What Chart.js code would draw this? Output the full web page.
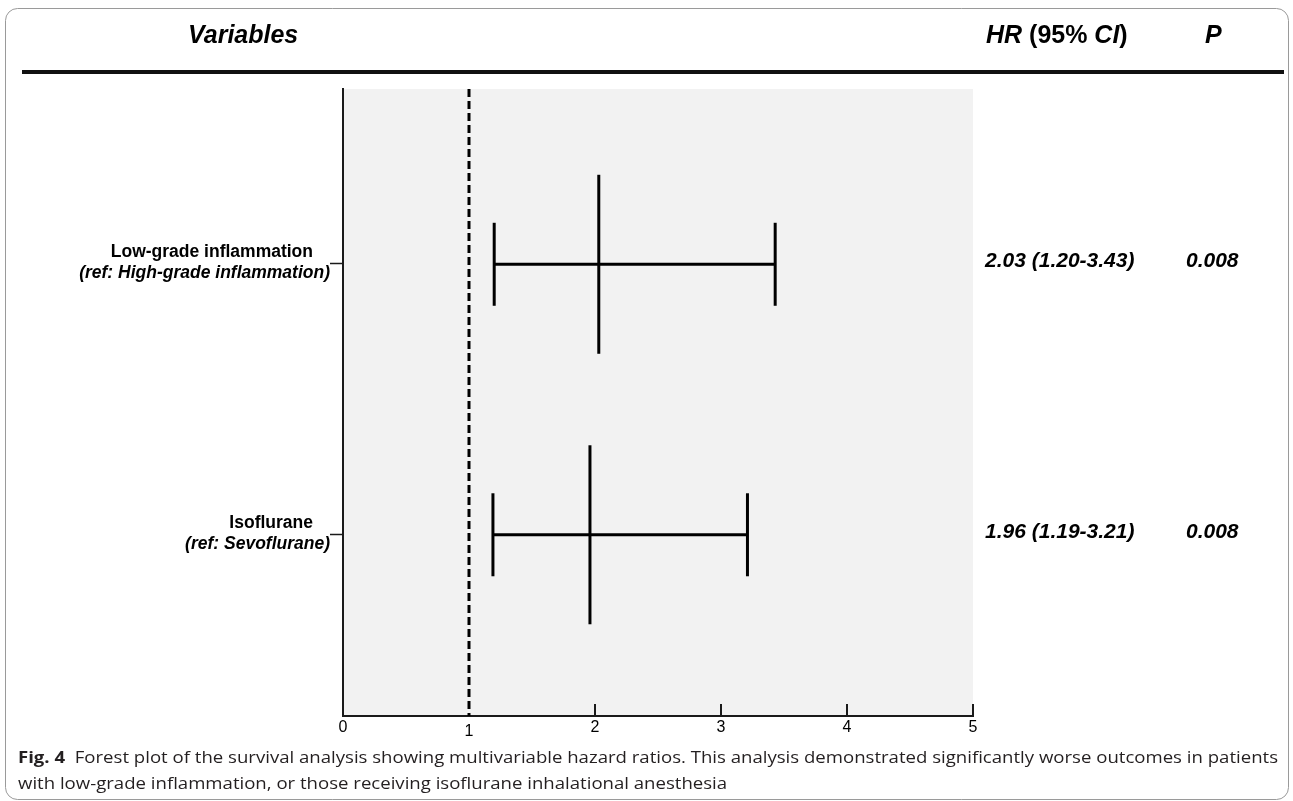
<!DOCTYPE html>
<html>
<head>
<meta charset="utf-8">
<script src="https://cdn.jsdelivr.net/npm/chart.js@4.4.1/dist/chart.umd.min.js"></script>
<style>
  html, body { margin: 0; padding: 0; background: #ffffff; }
  #wrap { width: 1293px; height: 801px; position: relative; }
</style>
</head>
<body>
<div id="wrap"><canvas id="c" width="1293" height="801"></canvas></div>
<script>
// ---- Data ----
const categories = ['Low-grade inflammation', 'Isoflurane'];
const references = ['(ref: High-grade inflammation)', '(ref: Sevoflurane)'];
const hazardRatios = [2.03, 1.96];
const ciLower = [1.20, 1.19];
const ciUpper = [3.43, 3.21];
const hrLabels = ['2.03 (1.20-3.43)', '1.96 (1.19-3.21)'];
const pValues = ['0.008', '0.008'];
const xTickValues = [0, 1, 2, 3, 4, 5];
const nullValue = 1;
const captionBold = 'Fig. 4';
const captionLines = [
  'Forest plot of the survival analysis showing multivariable hazard ratios. This analysis demonstrated significantly worse outcomes in patients',
  'with low-grade inflammation, or those receiving isoflurane inhalational anesthesia'
];

// ---- Derived ----
const rows = categories.map((_, i) => i + 1);
const Y_MIN = 0.352, Y_MAX = 2.67;
const SANS = '"Liberation Sans", Arial, Helvetica, sans-serif';

const datasets = [];
datasets.push({
  type: 'line',
  data: [{ x: nullValue, y: Y_MIN }, { x: nullValue, y: Y_MAX }],
  borderColor: '#000', borderWidth: 3, borderDash: [8, 4], pointRadius: 0, clip: false
});
rows.forEach((r, i) => {
  datasets.push({
    type: 'line',
    data: [{ x: ciLower[i], y: r }, { x: ciUpper[i], y: r }],
    borderColor: '#000', borderWidth: 3, pointRadius: 0, clip: false
  });
});
datasets.push({
  type: 'scatter',
  data: rows.flatMap((r, i) => [{ x: ciLower[i], y: r }, { x: ciUpper[i], y: r }]),
  pointStyle: 'line', rotation: 90, pointRadius: 41.5, pointHoverRadius: 41.5,
  borderColor: '#000', pointBorderColor: '#000', borderWidth: 3, pointBorderWidth: 3, clip: false
});
datasets.push({
  type: 'scatter',
  data: rows.map((r, i) => ({ x: hazardRatios[i], y: r })),
  pointStyle: 'line', rotation: 90, pointRadius: 89.5, pointHoverRadius: 89.5,
  borderColor: '#000', pointBorderColor: '#000', borderWidth: 3, pointBorderWidth: 3, clip: false
});

const decor = {
  id: 'decor',
  beforeDraw(chart) {
    const ctx = chart.ctx, a = chart.chartArea;
    ctx.save();
    ctx.fillStyle = '#fff';
    ctx.fillRect(0, 0, chart.width, chart.height);
    // outer rounded frame
    ctx.strokeStyle = '#9a9a9a';
    ctx.lineWidth = 1;
    ctx.beginPath();
    ctx.roundRect(5.5, 8.5, 1283, 791, 12);
    ctx.stroke();
    // plot background
    ctx.fillStyle = '#f2f2f2';
    ctx.fillRect(a.left, a.top, a.right - a.left, a.bottom - a.top);
    // header
    ctx.fillStyle = '#000';
    ctx.textBaseline = 'middle';
    ctx.textAlign = 'left';
    ctx.font = 'italic bold 25px ' + SANS;
    ctx.fillText('Variables', 188, 36);
    let x = 986;
    const parts = [['HR', true], [' (95% ', false], ['CI', true], [')', false]];
    parts.forEach(([t, it]) => {
      ctx.font = (it ? 'italic ' : '') + 'bold 25px ' + SANS;
      ctx.fillText(t, x, 36);
      x += ctx.measureText(t).width;
    });
    ctx.font = 'italic bold 25px ' + SANS;
    ctx.fillText('P', 1205, 36);
    // thick rule
    ctx.fillStyle = '#111';
    ctx.fillRect(22, 70, 1262, 4);
    ctx.restore();
  },
  afterDraw(chart) {
    const ctx = chart.ctx, a = chart.chartArea;
    const xs = chart.scales.x, ys = chart.scales.y;
    ctx.save();
    // x tick marks (inside) and labels
    ctx.strokeStyle = '#1a1a1a';
    ctx.lineWidth = 2;
    xTickValues.forEach(v => {
      const px = Math.round(xs.getPixelForValue(v));
      if (v !== 0 && v !== nullValue) {
        ctx.beginPath();
        ctx.moveTo(px, a.bottom);
        ctx.lineTo(px, a.bottom - 12);
        ctx.stroke();
      }
    });
    ctx.fillStyle = '#000';
    ctx.font = '16px ' + SANS;
    ctx.textAlign = 'center';
    ctx.textBaseline = 'middle';
    xTickValues.forEach(v => {
      const px = xs.getPixelForValue(v);
      ctx.fillText(String(v), px, a.bottom + 12 + (v === nullValue ? 4 : 0));
    });
    // y row ticks and labels
    rows.forEach((r, i) => {
      const py = Math.round(ys.getPixelForValue(r)) - 1;
      ctx.beginPath();
      ctx.lineWidth = 1.5;
      ctx.moveTo(a.left - 13, py + 0.5);
      ctx.lineTo(a.left, py + 0.5);
      ctx.stroke();
      ctx.textAlign = 'right';
      ctx.textBaseline = 'alphabetic';
      ctx.font = 'bold 17.5px ' + SANS;
      ctx.fillText(categories[i], 313, py - 6);
      ctx.font = 'italic bold 17.5px ' + SANS;
      ctx.fillText(references[i], 330, py + 15);
      // right columns
      ctx.textAlign = 'left';
      ctx.textBaseline = 'middle';
      ctx.font = 'italic bold 21px ' + SANS;
      const ry = ys.getPixelForValue(r) - 3;
      ctx.fillText(hrLabels[i], 985, ry);
      ctx.fillText(pValues[i], 1186, ry);
    });
    // caption
    ctx.fillStyle = '#231f20';
    ctx.textAlign = 'left';
    ctx.textBaseline = 'alphabetic';
    const capFont = '"Open Sans", sans-serif';
    ctx.font = 'bold 16px ' + capFont;
    const bw = ctx.measureText(captionBold + '  ').width;
    ctx.font = '16px ' + capFont;
    const lw = ctx.measureText(captionLines[0]).width;
    const sx = (1278 - 18) / (bw + lw);
    ctx.save();
    ctx.translate(18, 0);
    ctx.scale(sx, 1);
    ctx.font = 'bold 16px ' + capFont;
    ctx.fillText(captionBold, 0, 763);
    ctx.font = '16px ' + capFont;
    ctx.fillText(captionLines[0], bw, 763);
    ctx.fillText(captionLines[1], 0, 789);
    ctx.restore();
    ctx.restore();
  }
};

new Chart(document.getElementById('c'), {
  data: { datasets },
  options: {
    responsive: false,
    animation: false,
    devicePixelRatio: 1,
    events: [],
    layout: { autoPadding: false, padding: { left: 343, right: 320, top: 89, bottom: 85 } },
    plugins: { legend: { display: false }, tooltip: { enabled: false } },
    scales: {
      x: {
        type: 'linear', min: 0, max: 5,
        ticks: { display: false, stepSize: 1 },
        grid: { display: false, drawTicks: false },
        border: { display: true, color: '#1a1a1a', width: 2 },
        afterFit: s => { s.height = 0; }
      },
      y: {
        type: 'linear', reverse: true, min: Y_MIN, max: Y_MAX,
        ticks: { display: false },
        grid: { display: false, drawTicks: false },
        border: { display: true, color: '#1a1a1a', width: 2 },
        afterFit: s => { s.width = 0; }
      }
    }
  },
  plugins: [decor]
});
</script>
</body>
</html>
